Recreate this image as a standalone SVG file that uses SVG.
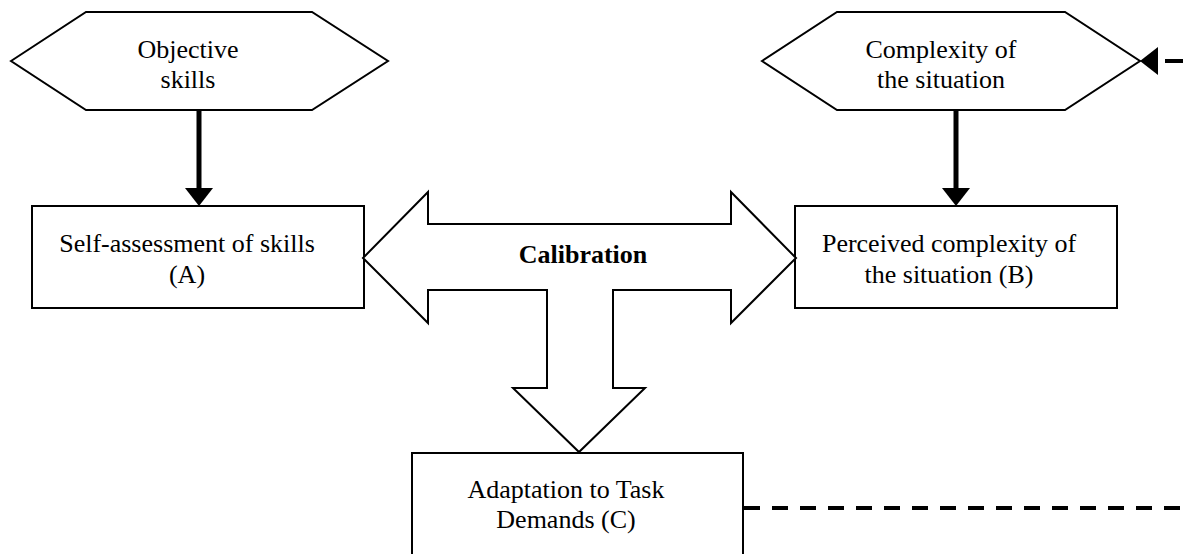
<svg xmlns="http://www.w3.org/2000/svg" width="1183" height="554" viewBox="0 0 1183 554">
<style>
.shape{fill:#fff;stroke:#000;stroke-width:2;stroke-linejoin:miter}
.t{font-family:"Liberation Serif","Times New Roman",serif;font-size:26px;fill:#000;text-anchor:middle}
.b{font-weight:bold}
.thick{stroke:#000;stroke-width:5;fill:none}
.dash{stroke:#000;stroke-width:4;fill:none;stroke-dasharray:16 12}
</style>
<defs>
<marker id="ah" markerUnits="userSpaceOnUse" markerWidth="18" markerHeight="28" refX="2" refY="14" orient="auto" viewBox="0 0 18 28">
<path d="M0,0 L18,14 L0,28 Z" fill="#000"/>
</marker>
</defs>
<rect width="1183" height="554" fill="#fff"/>
<g id="node-objective">
<polygon class="shape" points="11,61 86,12 312,12 388,61 312,110 86,110"/>
<text class="t" x="188" y="58">Objective</text>
<text class="t" x="188" y="88">skills</text>
</g>
<g id="node-complexity">
<polygon class="shape" points="762,61 837,12 1065,12 1140,61 1065,110 837,110"/>
<text class="t" x="941" y="58">Complexity of</text>
<text class="t" x="941" y="88">the situation</text>
</g>
<g id="node-selfassessment">
<rect class="shape" x="32" y="206" width="332" height="102"/>
<text class="t" x="187" y="252">Self-assessment of skills</text>
<text class="t" x="187" y="283">(A)</text>
</g>
<g id="node-perceived">
<rect class="shape" x="795" y="206" width="322" height="102"/>
<text class="t" x="949" y="252">Perceived complexity of</text>
<text class="t" x="949" y="283">the situation (B)</text>
</g>
<g id="node-calibration">
<polygon class="shape" points="363,258 428,192 428,224 731,224 731,192 796,258 731,323 731,290 613,290 613,388 645,388 579,452 513,388 547,388 547,290 428,290 428,323"/>
<text class="t b" x="583" y="263">Calibration</text>
</g>
<g id="node-adaptation">
<rect class="shape" x="412" y="453" width="331" height="120"/>
<text class="t" x="566" y="498">Adaptation to Task</text>
<text class="t" x="566" y="528">Demands (C)</text>
</g>
<g id="connectors">
<line class="thick" x1="199" y1="111" x2="199" y2="190" marker-end="url(#ah)"/>
<line class="thick" x1="956" y1="111" x2="956" y2="190" marker-end="url(#ah)"/>
<line class="dash" x1="744" y1="508" x2="1183" y2="508"/>
<line class="dash" x1="1165" y1="61" x2="1183" y2="61" style="stroke-dasharray:none"/>
<path d="M1140,61 L1158,47 L1158,75 Z" fill="#000"/>
</g>
</svg>
